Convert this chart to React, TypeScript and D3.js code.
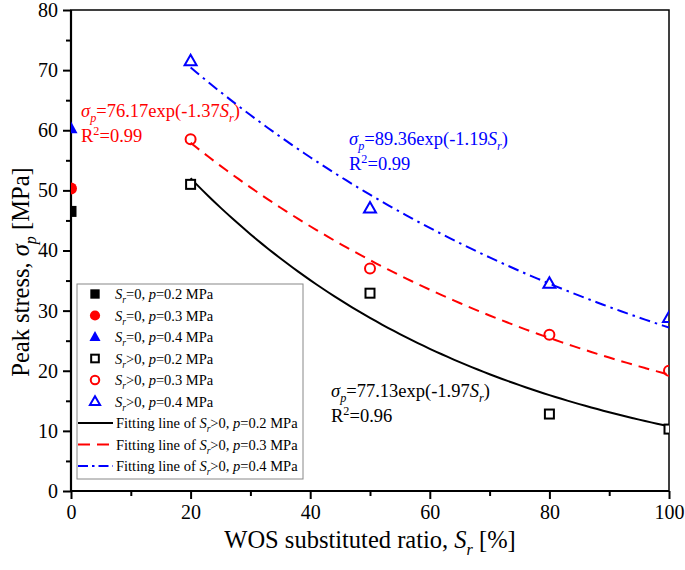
import { useEffect, useRef } from "react";
import * as d3 from "d3";

// ---- data ----
const pressureLabels = ["0.2", "0.3", "0.4"];
const seriesColors = ["#000000", "#ff0000", "#0000ff"];
const zeroRatioStress = [46.5, 50.3, 60.3]; // S_r = 0
const ratios = [20, 50, 80, 100];
const stressP02 = [51.0, 32.9, 12.8, 10.3];
const stressP03 = [58.5, 37.0, 26.0, 20.0];
const stressP04 = [71.5, 47.0, 34.5, 28.8];
// fitted curves sigma = a * exp(-b * Sr), Sr as a fraction
const fitA = [77.13, 76.17, 89.36];
const fitB = [1.97, 1.37, 1.19];
const fitR2 = ["0.96", "0.99", "0.99"];
const xTicks = [0, 20, 40, 60, 80, 100];
const yTicks = [0, 10, 20, 30, 40, 50, 60, 70, 80];

type Part = { t: string; i?: boolean; sub?: boolean; sup?: boolean };

export default function App() {
  const svgRef = useRef<SVGSVGElement>(null);

  useEffect(() => {
    document.body.style.margin = "0";
    const svg = d3.select(svgRef.current);
    svg.selectAll("*").remove();

    const W = 685, H = 570;
    const left = 71, right = 669, top = 10, bottom = 491;
    const font = "'Liberation Serif', 'Times New Roman', serif";
    svg.attr("width", W).attr("height", H).attr("font-family", font);
    svg.append("rect").attr("width", W).attr("height", H).attr("fill", "#fff");

    const x = d3.scaleLinear().domain([0, 100]).range([left, right]);
    const y = d3.scaleLinear().domain([0, 80]).range([bottom, top]);

    // rich text helper with italics / sub / superscript
    const rich = (
      parent: d3.Selection<any, unknown, null, undefined>,
      px: number, py: number, parts: Part[], size: number, color: string
    ) => {
      const t = parent.append("text").attr("x", px).attr("y", py)
        .attr("font-size", size).attr("fill", color);
      let shift = 0;
      parts.forEach(p => {
        const target = p.sub ? size * 0.28 : p.sup ? -size * 0.36 : 0;
        const ts = t.append("tspan").text(p.t).attr("dy", target - shift);
        shift = target;
        if (p.i) ts.attr("font-style", "italic");
        if (p.sub || p.sup) ts.attr("font-size", size * 0.66);
      });
      return t;
    };

    // clip
    svg.append("defs").append("clipPath").attr("id", "plot-clip")
      .append("rect").attr("x", left).attr("y", top)
      .attr("width", right - left).attr("height", bottom - top);

    // Axes
    const styleAxis = (ax: d3.Selection<SVGGElement, unknown, null, undefined>) => {
      ax.select(".domain").remove();
      ax.selectAll(".tick line").attr("stroke", "#000").attr("stroke-width", 2);
      ax.selectAll(".tick text").attr("fill", "#000").attr("font-size", 20)
        .attr("font-family", font);
    };

    svg.append("g").attr("transform", `translate(0,${bottom})`)
      .call(d3.axisBottom(x).tickValues(xTicks).tickSize(8).tickPadding(6))
      .call(styleAxis);
    svg.append("g").attr("transform", `translate(0,${bottom})`)
      .call(d3.axisBottom(x).tickValues(d3.range(10, 100, 20)).tickSize(5).tickFormat(() => ""))
      .call(styleAxis);

    svg.append("g").attr("transform", `translate(${left},0)`)
      .call(d3.axisLeft(y).tickValues(yTicks).tickSize(8).tickPadding(5))
      .call(styleAxis);
    svg.append("g").attr("transform", `translate(${left},0)`)
      .call(d3.axisLeft(y).tickValues(d3.range(5, 80, 10)).tickSize(5).tickFormat(() => ""))
      .call(styleAxis);

    // frame
    svg.append("rect").attr("x", left).attr("y", top)
      .attr("width", right - left).attr("height", bottom - top)
      .attr("fill", "none").attr("stroke", "#000").attr("stroke-width", 1.5);
    svg.append("line").attr("x1", left).attr("x2", left).attr("y1", top).attr("y2", bottom + 1)
      .attr("stroke", "#000").attr("stroke-width", 2.2);
    svg.append("line").attr("x1", left - 1).attr("x2", right).attr("y1", bottom).attr("y2", bottom)
      .attr("stroke", "#000").attr("stroke-width", 2.2);

    const plot = svg.append("g").attr("clip-path", "url(#plot-clip)");

    // fitted curves
    const dashes = [null, "11,7", "11,5,2.5,5"];
    fitA.forEach((a, k) => {
      const pts = d3.range(20, 100.5, 1).map(s => ({ s, v: a * Math.exp(-fitB[k] * s / 100) }));
      plot.append("path").datum(pts)
        .attr("d", d3.line<{ s: number; v: number }>().x(d => x(d.s)).y(d => y(d.v)).curve(d3.curveMonotoneX))
        .attr("fill", "none").attr("stroke", seriesColors[k]).attr("stroke-width", 2)
        .attr("stroke-dasharray", dashes[k]);
    });

    // marker drawing
    const marker = (
      g: d3.Selection<any, unknown, null, undefined>, shape: number, cx: number, cy: number,
      color: string, filled: boolean, sz = 1
    ) => {
      const sw = 2;
      if (shape === 0) {
        const s = (filled ? 11 : 9) * sz;
        g.append("rect").attr("x", cx - s / 2).attr("y", cy - s / 2).attr("width", s).attr("height", s)
          .attr("fill", filled ? color : "#fff").attr("stroke", color).attr("stroke-width", filled ? 0 : sw);
      } else if (shape === 1) {
        g.append("circle").attr("cx", cx).attr("cy", cy).attr("r", (filled ? 6 : 5) * sz)
          .attr("fill", filled ? color : "none").attr("stroke", color).attr("stroke-width", filled ? 0 : sw);
      } else {
        const h = (filled ? 12 : 10.5) * sz, w = (filled ? 13 : 12) * sz;
        const p = `M${cx},${cy - h * 0.6}L${cx + w / 2},${cy + h * 0.4}L${cx - w / 2},${cy + h * 0.4}Z`;
        g.append("path").attr("d", p)
          .attr("fill", filled ? color : "none").attr("stroke", color).attr("stroke-width", filled ? 0 : sw);
      }
    };

    const seriesStress = [stressP02, stressP03, stressP04];
    seriesStress.forEach((vals, k) => {
      vals.forEach((v, j) => marker(plot, k, x(ratios[j]), y(v), seriesColors[k], false));
    });
    zeroRatioStress.forEach((v, k) => marker(plot, k, x(0), y(v), seriesColors[k], true));

    // fit annotations
    const annot = [
      { k: 1, px: 81, py: 117 },
      { k: 2, px: 349, py: 145 },
      { k: 0, px: 331, py: 397 },
    ];
    annot.forEach(({ k, px, py }) => {
      rich(svg, px, py, [
        { t: "σ", i: true }, { t: "p", i: true, sub: true },
        { t: `=${fitA[k].toFixed(2)}exp(-${fitB[k].toFixed(2)}` },
        { t: "S", i: true }, { t: "r", i: true, sub: true }, { t: ")" },
      ], 18.5, seriesColors[k]);
      rich(svg, px, py + 24.5, [
        { t: "R" }, { t: "2", sup: true }, { t: `=${fitR2[k]}` },
      ], 18.5, seriesColors[k]);
    });

    // legend
    const lg = svg.append("g");
    lg.append("rect").attr("x", 77).attr("y", 284).attr("width", 226).attr("height", 195)
      .attr("fill", "#fff").attr("stroke", "#888").attr("stroke-width", 1);
    const rowY = (r: number) => 294 + r * 21.5;
    const lsize = 14.5;
    const entries: { shape: number; filled: boolean; k: number; op: string }[] = [];
    [true, false].forEach(filled =>
      pressureLabels.forEach((_, k) => entries.push({ shape: k, filled, k, op: filled ? "=" : ">" })));
    entries.forEach((e, r) => {
      const cy = rowY(r);
      marker(lg, e.shape, 95, cy, seriesColors[e.k], e.filled, e.filled ? 0.85 : 0.85);
      rich(lg, 115, cy + 5, [
        { t: "S", i: true }, { t: "r", i: true, sub: true }, { t: `${e.op}0, ` },
        { t: "p", i: true }, { t: `=${pressureLabels[e.k]} MPa` },
      ], lsize, "#000");
    });
    pressureLabels.forEach((pl, k) => {
      const cy = rowY(6 + k);
      lg.append("line").attr("x1", 78).attr("x2", 113).attr("y1", cy).attr("y2", cy)
        .attr("stroke", seriesColors[k]).attr("stroke-width", 2)
        .attr("stroke-dasharray", k === 1 ? "12,7" : k === 2 ? "10,4,2.5,4" : null);
      rich(lg, 116, cy + 5, [
        { t: "Fitting line of " }, { t: "S", i: true }, { t: "r", i: true, sub: true },
        { t: ">0, " }, { t: "p", i: true }, { t: `=${pl} MPa` },
      ], lsize, "#000");
    });

    // axis titles
    const xt = rich(svg, 370, 548, [
      { t: "WOS substituted ratio, " }, { t: "S", i: true }, { t: "r", i: true, sub: true }, { t: " [%]" },
    ], 24.5, "#000");
    xt.attr("text-anchor", "middle");
    const yt = rich(svg, 0, 0, [
      { t: "Peak stress, " }, { t: "σ", i: true }, { t: "p", i: true, sub: true }, { t: " [MPa]" },
    ], 24.5, "#000");
    yt.attr("text-anchor", "middle").attr("transform", "translate(29,272) rotate(-90)");
  }, []);

  return <svg ref={svgRef} style={{ display: "block" }} />;
}
